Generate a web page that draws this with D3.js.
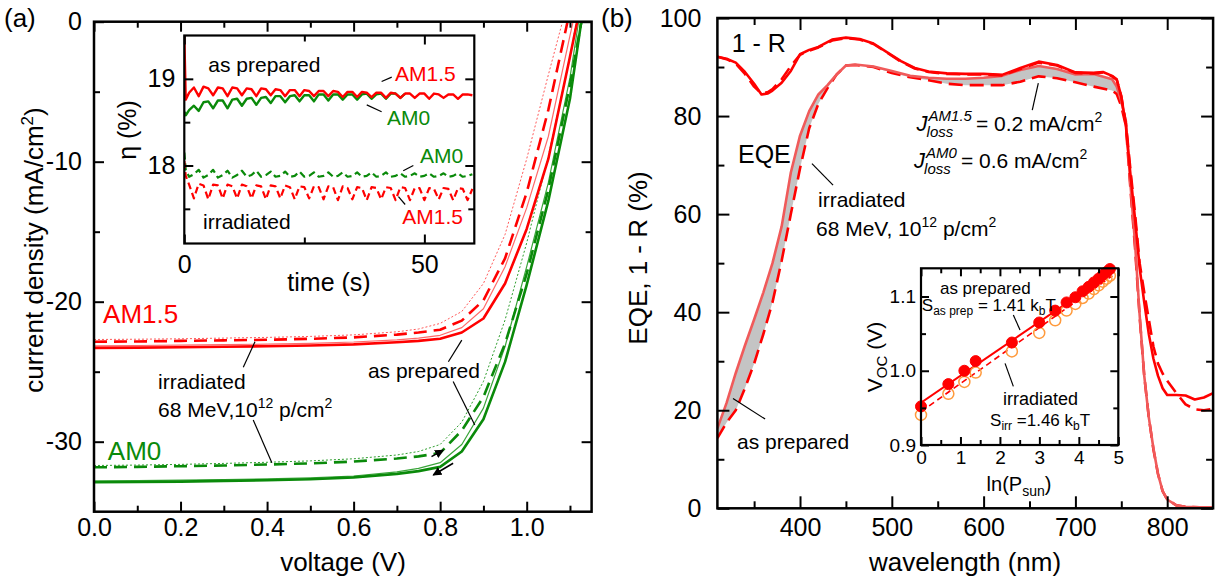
<!DOCTYPE html>
<html>
<head>
<meta charset="utf-8">
<script src="https://cdn.jsdelivr.net/npm/d3@7"></script>
<style>
body { margin: 0; background: #fff; }
svg { display: block; font-family: "Liberation Sans", Arial, sans-serif; }
.axis line { stroke: #000; stroke-width: 2; }
.axis text { fill: #000; }
</style>
</head>
<body>
<svg id="fig" width="1217" height="586"></svg>
<script>
// ---------- panel (a): J-V curves ----------
var jvVolt = [0, 0.1, 0.2, 0.3, 0.4, 0.5, 0.6, 0.7, 0.75, 0.8, 0.85, 0.9, 0.95, 1.0, 1.05, 1.1, 1.15];
var jvAM15Prep    = [-23.3, -23.28, -23.25, -23.22, -23.18, -23.13, -23.05, -22.9, -22.8, -22.65, -22.2, -21.2, -18.7, -14.8, -9.8, -2.5, 5];
var jvAM15PrepRev = [-23.15, -23.13, -23.1, -23.07, -23.03, -22.97, -22.88, -22.72, -22.6, -22.4, -21.85, -20.5, -17.5, -13.3, -8.2, -1.0, 6];
var jvAM15Irr     = [-22.86, -22.84, -22.8, -22.76, -22.72, -22.65, -22.55, -22.35, -22.2, -22.0, -21.35, -19.9, -16.9, -12.2, -6.3, 0.8, 8];
var jvAM15IrrRev  = [-22.7, -22.68, -22.65, -22.6, -22.55, -22.48, -22.37, -22.15, -21.95, -21.55, -20.7, -18.7, -15.2, -9.8, -3.8, 2, 9];
var jvAM0Prep     = [-32.9, -32.88, -32.85, -32.8, -32.75, -32.68, -32.55, -32.3, -32.1, -31.8, -30.7, -28.4, -24.3, -18.8, -12.8, -5.5, 5];
var jvAM0PrepRev  = [-32.8, -32.78, -32.75, -32.7, -32.65, -32.58, -32.45, -32.15, -31.9, -31.5, -30.2, -27.6, -23.2, -17.5, -11.5, -4, 6];
var jvAM0Irr      = [-31.83, -31.8, -31.75, -31.7, -31.63, -31.55, -31.42, -31.2, -31.05, -30.8, -29.2, -26.8, -23.0, -18.0, -12.0, -4.5, 4];
var jvAM0IrrRev   = [-31.7, -31.67, -31.62, -31.55, -31.47, -31.37, -31.22, -30.95, -30.7, -30.2, -28.6, -25.7, -21.3, -15.8, -9.6, -2.5, 6];

// ---------- panel (a) inset: efficiency vs time ----------
var effTime = [0, 0.3, 1, 2, 3, 4, 5, 6, 7, 8, 9, 10, 11, 12, 13, 14, 15, 16, 17, 18, 19, 20,
    21, 22, 23, 24, 25, 26, 27, 28, 29, 30, 31, 32, 33, 34, 35, 36, 37, 38, 39, 40,
    41, 42, 43, 44, 45, 46, 47, 48, 49, 50, 51, 52, 53, 54, 55, 56, 57, 58, 59, 60];
var effAM15Prep = [19.5, 18.76, 18.84, 18.9, 18.8, 18.91, 18.89, 18.81, 18.9, 18.89,
    18.8, 18.9, 18.89, 18.81, 18.89, 18.88, 18.8, 18.89, 18.88, 18.81,
    18.88, 18.87, 18.8, 18.87, 18.87, 18.8, 18.87, 18.86, 18.8, 18.86,
    18.86, 18.8, 18.86, 18.85, 18.79, 18.85, 18.85, 18.79, 18.85, 18.84,
    18.79, 18.84, 18.84, 18.78, 18.84, 18.83, 18.78, 18.83, 18.83, 18.78,
    18.83, 18.83, 18.77, 18.83, 18.82, 18.78, 18.82, 18.82, 18.77, 18.82,
    18.82, 18.81];
var effAM0Prep = [18.62, 18.58, 18.64, 18.69, 18.63, 18.73, 18.74, 18.66, 18.75, 18.75,
    18.66, 18.76, 18.77, 18.69, 18.77, 18.78, 18.7, 18.78, 18.79, 18.72,
    18.8, 18.8, 18.73, 18.8, 18.81, 18.74, 18.81, 18.81, 18.74, 18.82,
    18.82, 18.75, 18.82, 18.82, 18.76, 18.82, 18.82, 18.76, 18.82, 18.83,
    18.77, 18.82, 18.83, 18.77, 18.83, 18.83, 18.78, 18.83];
var effAM0Irr = [18.15, 17.95, 17.87, 17.9, 17.95, 17.86, 17.89, 17.95, 17.86, 17.89,
    17.94, 17.86, 17.89, 17.94, 17.87, 17.89, 17.94, 17.87, 17.89, 17.93,
    17.87, 17.88, 17.93, 17.87, 17.88, 17.93, 17.87, 17.88, 17.92, 17.87,
    17.88, 17.92, 17.87, 17.88, 17.92, 17.87, 17.88, 17.92, 17.87, 17.88,
    17.92, 17.87, 17.88, 17.92, 17.87, 17.88, 17.91, 17.87, 17.88, 17.91,
    17.87, 17.88, 17.91, 17.87, 17.88, 17.91, 17.87, 17.88, 17.91, 17.87,
    17.88, 17.9];
var effAM15Irr = [18.05, 17.88, 17.78, 17.62, 17.79, 17.77, 17.61, 17.78, 17.77, 17.62,
    17.78, 17.76, 17.62, 17.78, 17.76, 17.62, 17.77, 17.76, 17.61, 17.77,
    17.76, 17.62, 17.77, 17.75, 17.61, 17.76, 17.75, 17.62, 17.76, 17.75,
    17.61, 17.76, 17.75, 17.6, 17.76, 17.74, 17.61, 17.75, 17.74, 17.6,
    17.75, 17.74, 17.61, 17.75, 17.74, 17.6, 17.75, 17.74, 17.6, 17.74,
    17.74, 17.6, 17.74, 17.73, 17.61, 17.74, 17.73, 17.6, 17.74, 17.73,
    17.6, 17.73];

// ---------- panel (b): EQE and 1 - R ----------
var wlEqe = [310, 320, 330, 340, 350, 360, 370, 380, 390, 400, 410, 420, 430, 440, 450, 460,
    480, 500, 520, 540, 560, 580, 600, 620, 640, 660, 680, 700, 720, 740,
    745, 750, 755, 760, 765, 770, 775, 780, 785, 790, 795, 800, 810, 820, 835, 850];
var eqePrep = [16.3, 21.5, 27.6, 33.2, 38.5, 44, 50, 57.5, 68.5, 76, 81, 84.4, 86.3, 88.5, 90.3, 90.5,
    90.1, 89.2, 88.2, 87.8, 87.6, 87.6, 87.8, 88.2, 89.4, 90.2, 89.6, 88.5, 88.6, 87.5,
    86, 83, 79, 66, 54, 39.4, 27, 18.5, 12.2, 7, 3.5, 1.8, 0.6, 0.3, 0.2, 0.2];
var eqeIrr = [14.3, 17.5, 20.0, 24.5, 29.5, 35.5, 42, 50.5, 60, 69.3, 77.5, 82.5, 85.7, 88.5, 90.3, 90.4,
    90.0, 88.8, 87.9, 87.3, 86.6, 86.3, 86.3, 86.3, 87.0, 88.1, 87.7, 86.9, 86.0, 85.2,
    84.5, 82, 78, 65, 53, 39, 27, 18.5, 12, 7, 3.5, 1.8, 0.6, 0.3, 0.2, 0.2];
var wlRefl = [310, 320, 330, 340, 350, 358, 365, 370, 380, 390, 400, 410, 420,
    435, 450, 465, 480, 495, 510, 525, 540, 560, 580, 600, 620, 640, 660, 680, 700, 720,
    730, 740, 745, 750, 755, 760, 765, 770, 775, 780, 785, 790, 795, 800, 810, 820, 830, 840, 850];
var reflPrep = [92.1, 91.7, 90.9, 89.0, 86.6, 84.4, 84.6, 85.2, 86.8, 89.2, 92.6, 93.5, 94.1,
    95.6, 96.0, 95.7, 94.8, 93.0, 91.2, 89.8, 89.1, 88.7, 88.6, 88.6, 88.4, 89.8, 91.1, 90.4, 88.9, 88.8,
    89.0, 88.2, 87.5, 84, 78, 68, 59, 49, 42, 35.5, 30.5, 27, 24.5, 23.1, 23.1, 23.0, 22.2, 22.6, 23.5];
var reflIrr = [92.1, 91.6, 90.7, 88.6, 86.0, 84.6, 84.9, 85.5, 87.5, 90.2, 92.5, 93.3, 94.0,
    95.4, 95.9, 95.6, 94.7, 92.9, 91.1, 89.7, 89.0, 88.6, 88.5, 88.5, 88.3, 89.6, 90.9, 90.3, 88.8, 88.7,
    88.9, 88.1, 87.4, 84, 78.5, 69, 60, 50, 44, 38.5, 33, 29.5, 27.5, 26, 23.5, 21.2, 20.2, 20.0, 20.3];

// ---------- panel (b) inset: Voc vs ln(Psun) ----------
var lnSun   = [0, 0.693, 1.099, 1.386, 2.303, 2.996, 3.401, 3.689, 3.912, 4.094, 4.248, 4.382, 4.5, 4.605, 4.7, 4.787];
var vocPrep = [0.952, 0.982, 1.0, 1.013, 1.038, 1.065, 1.081, 1.092, 1.099, 1.107, 1.113, 1.119, 1.124, 1.129, 1.133, 1.137];
var vocIrr  = [0.9405, 0.969, 0.985, 0.9975, 1.026, 1.051, 1.068, 1.081, 1.09, 1.098, 1.104, 1.11, 1.115, 1.12, 1.124, 1.128];
var fitLn = [0, 4.85];
var fitPrep = [0.957, 1.133];
var fitIrr = [0.945, 1.128];

var red = "#ff0000", green = "#0a8a0a";

var svg = d3.select("#fig");
svg.append("rect").attr("width", 1217).attr("height", 586).attr("fill", "#fff");
var defs = svg.append("defs");
defs.append("marker").attr("id", "arr")
    .attr("viewBox", "0 0 10 10").attr("refX", 9).attr("refY", 5)
    .attr("markerWidth", 6).attr("markerHeight", 6).attr("orient", "auto")
    .append("path").attr("d", "M0,0 L10,5 L0,10 z").attr("fill", "#000");

function clipFor(id, x, y) {
    var xr = x.range(), yr = y.range();
    defs.append("clipPath").attr("id", id).append("rect")
        .attr("x", xr[0]).attr("y", yr[1])
        .attr("width", xr[1] - xr[0]).attr("height", yr[0] - yr[1]);
    return "url(#" + id + ")";
}

// box with inward ticks on all four sides
function box(g, x, y, o) {
    var xr = x.range(), yr = y.range();
    var none = function() { return ""; };
    function add(gen, tx, ty, vals, size, fmt, pad) {
        var a = g.append("g").attr("class", "axis")
            .attr("transform", "translate(" + tx + "," + ty + ")")
            .call(gen.tickValues(vals).tickSizeInner(-size).tickSizeOuter(0).tickPadding(pad).tickFormat(fmt));
        a.select(".domain").remove();
        a.selectAll("line").style("stroke-width", o.tw);
        a.selectAll("text").style("font-size", o.font + "px").style("font-family", "Liberation Sans, Arial, sans-serif");
    }
    add(d3.axisBottom(x), 0, yr[0], o.xMajor, o.maj, o.xFmt, o.xPad);
    add(d3.axisBottom(x), 0, yr[0], o.xMinor, o.min, none, 0);
    add(d3.axisTop(x), 0, yr[1], o.xMajor, o.maj, none, 0);
    add(d3.axisTop(x), 0, yr[1], o.xMinor, o.min, none, 0);
    add(d3.axisLeft(y), xr[0], 0, o.yMajor, o.maj, o.yFmt, o.yPad);
    add(d3.axisLeft(y), xr[0], 0, o.yMinor, o.min, none, 0);
    add(d3.axisRight(y), xr[1], 0, o.yMajor, o.maj, none, 0);
    add(d3.axisRight(y), xr[1], 0, o.yMinor, o.min, none, 0);
    g.append("rect").attr("x", xr[0]).attr("y", yr[1])
        .attr("width", xr[1] - xr[0]).attr("height", yr[0] - yr[1])
        .attr("fill", "none").attr("stroke", "#000").attr("stroke-width", o.sw);
}

function curve(g, x, y, xs, ys, st) {
    var pts = ys.map(function(v, i) { return [xs[i], v]; });
    return g.append("path")
        .attr("d", d3.line().x(function(d) { return x(d[0]); }).y(function(d) { return y(d[1]); })(pts))
        .attr("fill", "none").attr("stroke", st.c).attr("stroke-width", st.w)
        .attr("stroke-dasharray", st.d || null).attr("stroke-linejoin", "round");
}

function seg(g, x, y, p, q, arrow) {
    var l = g.append("line").attr("x1", x(p[0])).attr("y1", y(p[1]))
        .attr("x2", x(q[0])).attr("y2", y(q[1]))
        .attr("stroke", "#000").attr("stroke-width", arrow ? 1.5 : 1.2);
    if (arrow) l.attr("marker-end", "url(#arr)");
}

function label(g, x, y, pos, s, size, fill) {
    return g.append("text").attr("x", x(pos[0])).attr("y", y(pos[1]))
        .attr("font-size", size).attr("fill", fill || "#000").text(s);
}

function sup(t, s, up, size) {
    t.append("tspan").attr("dy", -up).attr("font-size", size).text(s);
}

// ================= panel (a) =================
var xa = d3.scaleLinear().domain([0, 1.15]).range([94, 591.6]);
var ya = d3.scaleLinear().domain([-35, 0]).range([511.7, 21.7]);
var ga = svg.append("g");
var ca = ga.append("g").attr("clip-path", clipFor("clipA", xa, ya));

curve(ca, xa, ya, jvVolt, jvAM15IrrRev, {c: "#ff5a5a", w: 1, d: "2,2"});
curve(ca, xa, ya, jvVolt, jvAM15PrepRev, {c: "#ff6a6a", w: 1.2});
curve(ca, xa, ya, jvVolt, jvAM0IrrRev, {c: "#2f9f2f", w: 1, d: "2,2"});
curve(ca, xa, ya, jvVolt, jvAM0PrepRev, {c: "#3aa53a", w: 1.2});
curve(ca, xa, ya, jvVolt, jvAM15Irr, {c: red, w: 2.6, d: "13,7"});
curve(ca, xa, ya, jvVolt, jvAM15Prep, {c: red, w: 2.6});
curve(ca, xa, ya, jvVolt, jvAM0Irr, {c: green, w: 2.6, d: "13,7"});
curve(ca, xa, ya, jvVolt, jvAM0Prep, {c: green, w: 2.6});

box(ga, xa, ya, {
    xMajor: [0, 0.2, 0.4, 0.6, 0.8, 1.0], xMinor: [0.1, 0.3, 0.5, 0.7, 0.9, 1.1],
    yMajor: [0, -10, -20, -30], yMinor: [-5, -15, -25],
    xFmt: d3.format(".1f"), yFmt: function(d) { return String(d); },
    maj: 10, min: 6, tw: 2, sw: 2.5, font: 25, xPad: 6.5, yPad: 12
});

label(ga, xa, ya, [0.021, -21.55], "AM1.5", 26, red);
label(ga, xa, ya, [0.032, -31.3], "AM0", 26, green);
label(ga, xa, ya, [0.148, -26.2], "irradiated", 21);
var t68 = label(ga, xa, ya, [0.148, -28.2], "68 MeV,10", 21);
sup(t68, "12", 9, 14);
t68.append("tspan").attr("dy", 9).text(" p/cm");
sup(t68, "2", 9, 14);
label(ga, xa, ya, [0.633, -25.45], "as prepared", 21);
seg(ga, xa, ya, [0.345, -24.69], [0.372, -22.86]);
seg(ga, xa, ya, [0.368, -28.45], [0.411, -31.5]);
seg(ga, xa, ya, [0.85, -22.74], [0.819, -24.29]);
seg(ga, xa, ya, [0.83, -25.7], [0.88, -28.8]);
seg(ga, xa, ya, [0.78, -31.07], [0.807, -30.6], true);
seg(ga, xa, ya, [0.83, -31.54], [0.784, -32.38], true);

ga.append("text").attr("x", 343).attr("y", 571).attr("text-anchor", "middle")
    .attr("font-size", 26).text("voltage (V)");
var yla = ga.append("text").attr("transform", "translate(43,250) rotate(-90)")
    .attr("text-anchor", "middle").attr("font-size", 26).text("current density (mA/cm");
sup(yla, "2", 10, 17);
yla.append("tspan").attr("dy", 10).text(")");
svg.append("text").attr("x", 4).attr("y", 27).attr("font-size", 26).text("(a)");

// ---------- inset (a) ----------
var xi = d3.scaleLinear().domain([0, 60.4]).range([184.3, 474.3]);
var yi = d3.scaleLinear().domain([17.1, 19.5]).range([243.5, 35.5]);
var gi = svg.append("g");
gi.append("rect").attr("x", 184.3).attr("y", 35.5).attr("width", 290).attr("height", 208).attr("fill", "#fff");
var ci = gi.append("g").attr("clip-path", clipFor("clipI", xi, yi));
curve(ci, xi, yi, effTime, effAM0Irr, {c: green, w: 2.2, d: "7,4"});
curve(ci, xi, yi, effTime, effAM15Irr, {c: red, w: 2.2, d: "7,4"});
curve(ci, xi, yi, effTime, effAM0Prep, {c: green, w: 2.4});
curve(ci, xi, yi, effTime, effAM15Prep, {c: red, w: 2.4});
box(gi, xi, yi, {
    xMajor: [0, 50], xMinor: [25], yMajor: [18, 19], yMinor: [17.5, 18.5],
    xFmt: d3.format("d"), yFmt: d3.format("d"),
    maj: 9, min: 6, tw: 2, sw: 2.2, font: 25, xPad: 12, yPad: 9
});
label(gi, xi, yi, [5.0, 19.084], "as prepared", 21);
label(gi, xi, yi, [43.9, 18.97], "AM1.5", 21, red);
label(gi, xi, yi, [42.2, 18.47], "AM0", 21, green);
label(gi, xi, yi, [49.1, 18.03], "AM0", 21, green);
label(gi, xi, yi, [45.4, 17.33], "AM1.5", 21, red);
label(gi, xi, yi, [3.9, 17.27], "irradiated", 21);
seg(gi, xi, yi, [41.1, 18.97], [43.2, 19.02]);
seg(gi, xi, yi, [38.0, 18.7], [41.1, 18.62]);
seg(gi, xi, yi, [45.6, 17.94], [47.7, 18.0]);
seg(gi, xi, yi, [44.6, 17.64], [46.0, 17.55]);
gi.append("text").attr("x", 329).attr("y", 291).attr("text-anchor", "middle")
    .attr("font-size", 25).text("time (s)");
gi.append("text").attr("transform", "translate(136,130) rotate(-90)")
    .attr("text-anchor", "middle").attr("font-size", 25).text("\u03b7 (%)");

// ================= panel (b) =================
var xb = d3.scaleLinear().domain([310, 850]).range([717.4, 1213.1]);
var yb = d3.scaleLinear().domain([0, 100]).range([508.3, 18]);
var gb = svg.append("g");
var cb = gb.append("g").attr("clip-path", clipFor("clipB", xb, yb));

var lossIdx = wlEqe.map(function(w, i) { return i; }).filter(function(i) { return wlEqe[i] <= 760; });
cb.append("path")
    .attr("d", d3.area()
        .x(function(i) { return xb(wlEqe[i]); })
        .y0(function(i) { return yb(eqeIrr[i]); })
        .y1(function(i) { return yb(eqePrep[i]); })(lossIdx))
    .attr("fill", "#c4c4c4");
curve(cb, xb, yb, wlEqe, eqeIrr, {c: red, w: 2.6, d: "14,7"});
curve(cb, xb, yb, wlEqe, eqePrep, {c: "#f05a5a", w: 2.6});
curve(cb, xb, yb, wlRefl, reflIrr, {c: red, w: 2.6, d: "14,7"});
curve(cb, xb, yb, wlRefl, reflPrep, {c: red, w: 2.6});

box(gb, xb, yb, {
    xMajor: [400, 500, 600, 700, 800], xMinor: [350, 450, 550, 650, 750],
    yMajor: [0, 20, 40, 60, 80, 100], yMinor: [10, 30, 50, 70, 90],
    xFmt: d3.format("d"), yFmt: d3.format("d"),
    maj: 12, min: 7, tw: 2, sw: 2.5, font: 25, xPad: 10, yPad: 16
});

label(gb, xb, yb, [325.6, 93.1], "1 - R", 25);
label(gb, xb, yb, [332.4, 70.4], "EQE", 25);
label(gb, xb, yb, [419.6, 61.5], "irradiated", 21);
var tb68 = label(gb, xb, yb, [417.4, 55.5], "68 MeV, 10", 21);
sup(tb68, "12", 9, 14);
tb68.append("tspan").attr("dy", 9).text(" p/cm");
sup(tb68, "2", 9, 14);
seg(gb, xb, yb, [413, 70.3], [436, 65.9]);
label(gb, xb, yb, [331.4, 12.1], "as prepared", 21);
seg(gb, xb, yb, [327, 22.4], [362, 18.2]);
seg(gb, xb, yb, [653, 81.2], [659.6, 86.7]);

function jloss(pos, top, rest) {
    var x0 = xb(pos[0]), y0 = yb(pos[1]);
    var J = gb.append("text").attr("x", x0).attr("y", y0).attr("font-size", 22)
        .attr("font-style", "italic").text("J");
    var jw = J.node().getComputedTextLength();
    var s = gb.append("text").attr("x", x0 + jw + 1).attr("y", y0 - 10).attr("font-size", 15)
        .attr("font-style", "italic").text(top);
    gb.append("text").attr("x", x0 + jw - 1).attr("y", y0 + 6).attr("font-size", 15)
        .attr("font-style", "italic").text("loss");
    var sw = Math.max(s.node().getComputedTextLength(), 26);
    var r = gb.append("text").attr("x", x0 + jw + sw + 5).attr("y", y0).attr("font-size", 21).text(rest);
    sup(r, "2", 9, 14);
}
jloss([527, 76.95], "AM1.5", "= 0.2 mA/cm");
jloss([524.3, 69.4], "AM0", "= 0.6 mA/cm");

gb.append("text").attr("x", 965).attr("y", 571).attr("text-anchor", "middle")
    .attr("font-size", 26).text("wavelength (nm)");
gb.append("text").attr("transform", "translate(647,258) rotate(-90)")
    .attr("text-anchor", "middle").attr("font-size", 26).text("EQE, 1 - R (%)");
svg.append("text").attr("x", 601).attr("y", 27).attr("font-size", 26).text("(b)");

// ---------- inset (b) ----------
var xv = d3.scaleLinear().domain([0, 5]).range([921, 1118.3]);
var yv = d3.scaleLinear().domain([0.9, 1.138]).range([445, 268.3]);
var gv = svg.append("g");
gv.append("rect").attr("x", 921).attr("y", 268.3).attr("width", 197.3).attr("height", 176.7).attr("fill", "#fff");
var cv = gv.append("g").attr("clip-path", clipFor("clipV", xv, yv));
curve(cv, xv, yv, fitLn, fitIrr, {c: red, w: 1.6, d: "6,4"});
curve(cv, xv, yv, fitLn, fitPrep, {c: red, w: 2});
gv.append("g").selectAll("circle").data(lnSun).enter().append("circle")
    .attr("cx", function(d) { return xv(d); })
    .attr("cy", function(d, i) { return yv(vocIrr[i]); })
    .attr("r", 5.5).attr("fill", "none").attr("stroke", "#ff9a3c").attr("stroke-width", 1.5);
gv.append("g").selectAll("circle").data(lnSun).enter().append("circle")
    .attr("cx", function(d) { return xv(d); })
    .attr("cy", function(d, i) { return yv(vocPrep[i]); })
    .attr("r", 5.5).attr("fill", red).attr("stroke", red);
box(gv, xv, yv, {
    xMajor: [0, 1, 2, 3, 4, 5], xMinor: [0.5, 1.5, 2.5, 3.5, 4.5],
    yMajor: [0.9, 1.0, 1.1], yMinor: [0.95, 1.05],
    xFmt: d3.format("d"), yFmt: d3.format(".1f"),
    maj: 8, min: 5, tw: 2, sw: 2.2, font: 19, xPad: 6, yPad: 5
});
label(gv, xv, yv, [0.48, 1.104], "as prepared", 17);
var sp = label(gv, xv, yv, [0.02, 1.081], "S", 17);
sp.append("tspan").attr("dy", 4).attr("font-size", 12).text("as prep");
sp.append("tspan").attr("dy", -4).text(" = 1.41 k");
sp.append("tspan").attr("dy", 4).attr("font-size", 12).text("b");
sp.append("tspan").attr("dy", -4).text("T");
seg(gv, xv, yv, [2.34, 1.075], [2.51, 1.055]);
label(gv, xv, yv, [2.08, 0.954], "irradiated", 18);
var si = label(gv, xv, yv, [1.75, 0.926], "S", 17);
si.append("tspan").attr("dy", 4).attr("font-size", 12).text("irr");
si.append("tspan").attr("dy", -4).text(" =1.46 k");
si.append("tspan").attr("dy", 4).attr("font-size", 12).text("b");
si.append("tspan").attr("dy", -4).text("T");
seg(gv, xv, yv, [2.13, 1.01], [2.34, 0.979]);
var xlv = gv.append("text").attr("x", 1019).attr("y", 491).attr("text-anchor", "middle")
    .attr("font-size", 20).text("ln(P");
xlv.append("tspan").attr("dy", 5).attr("font-size", 14).text("sun");
xlv.append("tspan").attr("dy", -5).text(")");
var ylv = gv.append("text").attr("transform", "translate(882,357) rotate(-90)")
    .attr("text-anchor", "middle").attr("font-size", 21).text("V");
ylv.append("tspan").attr("dy", 5).attr("font-size", 15).text("OC");
ylv.append("tspan").attr("dy", -5).text(" (V)");
</script>
</body>
</html>
